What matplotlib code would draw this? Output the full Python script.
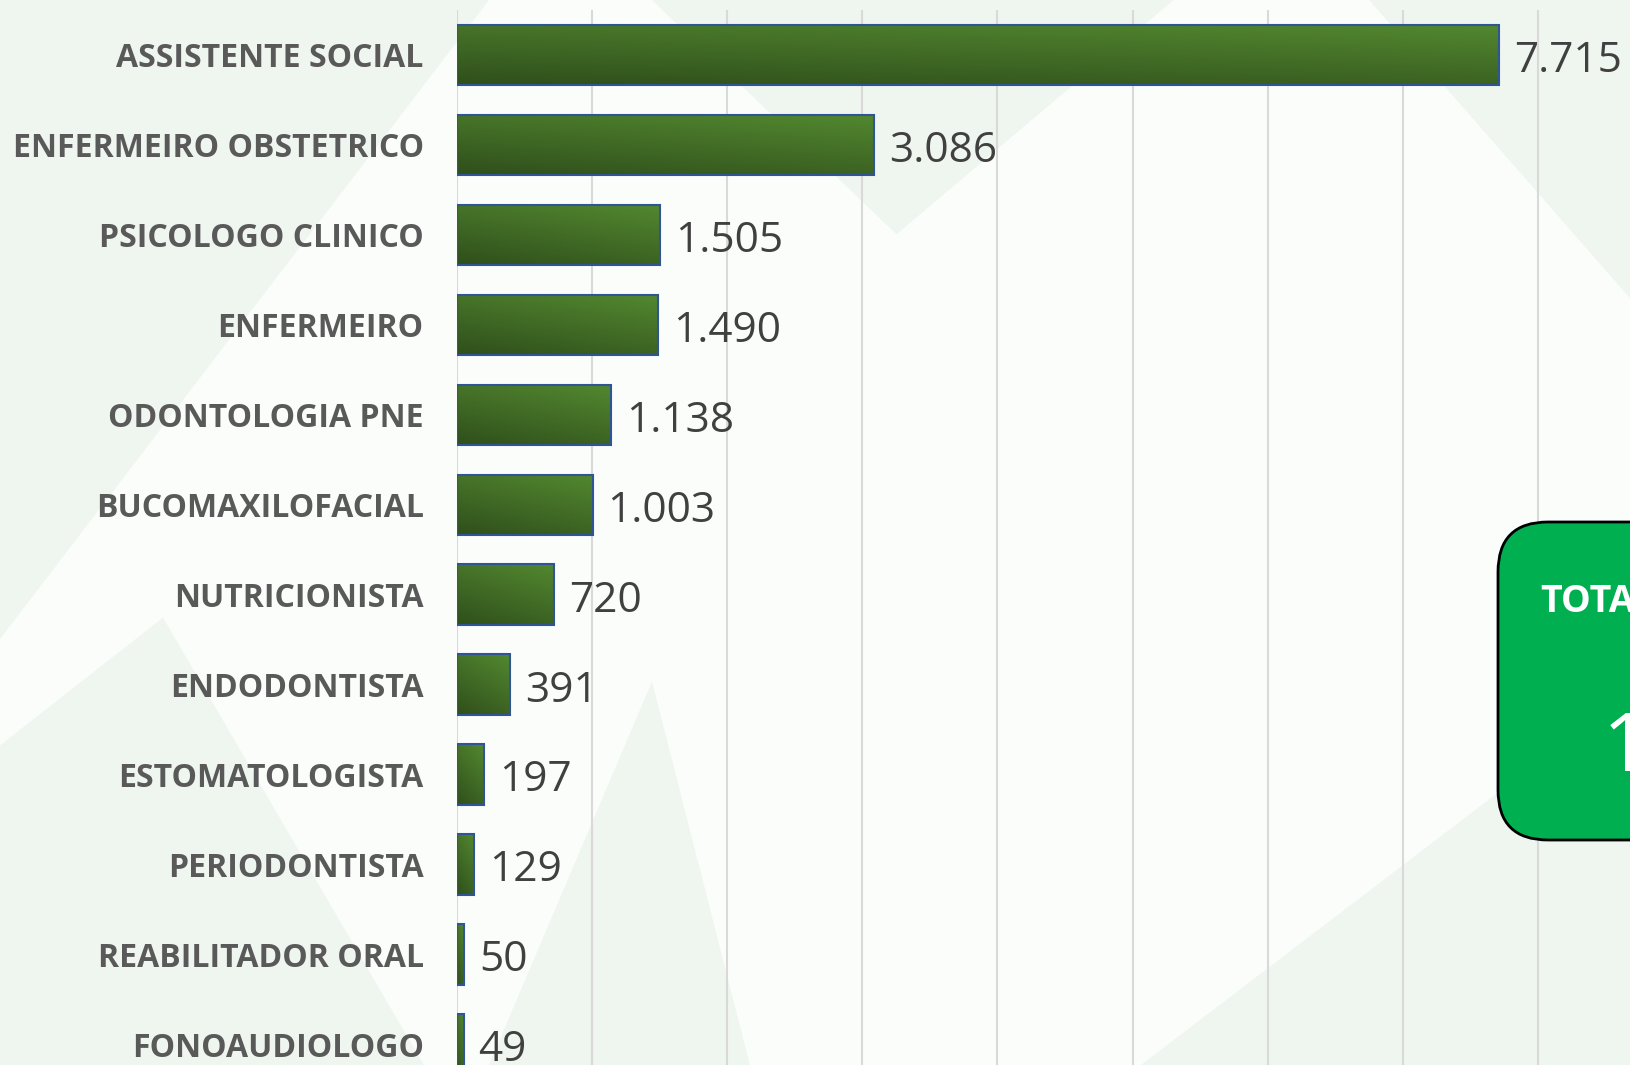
import numpy as np
import matplotlib
matplotlib.use("Agg")
import matplotlib.pyplot as plt
from matplotlib.patches import FancyBboxPatch, Polygon

# data
categories = ["ASSISTENTE SOCIAL", "ENFERMEIRO OBSTETRICO", "PSICOLOGO CLINICO",
              "ENFERMEIRO", "ODONTOLOGIA PNE", "BUCOMAXILOFACIAL", "NUTRICIONISTA",
              "ENDODONTISTA", "ESTOMATOLOGISTA", "PERIODONTISTA", "REABILITADOR ORAL",
              "FONOAUDIOLOGO"]
values = [7715, 3086, 1505, 1490, 1138, 1003, 720, 391, 197, 129, 50, 49]
value_labels = ["7.715", "3.086", "1.505", "1.490", "1.138", "1.003", "720",
                "391", "197", "129", "50", "49"]
grid_ticks = [0, 1000, 2000, 3000, 4000, 5000, 6000, 7000, 8000]

total = sum(values)
total_label = f"{total:,}".replace(",", ".")

fig = plt.figure(figsize=(16.3, 10.65), dpi=100, facecolor="#FBFDFB")

# faint watermark shapes in the background (kept behind the axes)
bg_shapes = [
    [(0.0, 1.0), (0.0, 0.40), (0.16, 0.72), (0.30, 1.0)],
    [(0.0, 0.30), (0.0, 0.0), (0.26, 0.0), (0.10, 0.42)],
    [(0.40, 1.0), (0.55, 0.78), (0.72, 1.0)],
    [(0.70, 0.0), (1.0, 0.0), (1.0, 0.35)],
    [(0.84, 1.0), (1.0, 0.72), (1.0, 1.0)],
    [(0.30, 0.0), (0.40, 0.36), (0.46, 0.0)],
]
for pts in bg_shapes:
    fig.patches.append(Polygon(pts, closed=True, transform=fig.transFigure,
                               facecolor="#EFF5EF", edgecolor="none", zorder=-10))

ax = fig.add_axes([457 / 1630, 0.0, 1 - 457 / 1630, 1 - 10 / 1065])
ax.set_facecolor("none")

y = np.arange(len(categories))
bars = ax.barh(y, values, height=0.67, color="#3F6E26", edgecolor="#2F5597",
               linewidth=1.5, zorder=3)

# gradient fill (dark bottom-left -> lighter top-right)
c0 = np.array([48, 80, 28]) / 255
c1 = np.array([82, 135, 47]) / 255
gx, gy = np.meshgrid(np.linspace(0, 1, 64), np.linspace(0, 1, 16))
t = np.clip(0.35 * gx + 0.65 * (1 - gy), 0, 1)
grad = c0 + (c1 - c0) * t[..., None]
for b in bars:
    x0, yb, w, h = b.get_x(), b.get_y(), b.get_width(), b.get_height()
    im = ax.imshow(grad, extent=[x0, x0 + w, yb + h, yb], aspect="auto",
                   origin="upper", zorder=2.9, interpolation="bilinear")
    im.set_clip_path(b)
    b.set_facecolor("none")

ax.set_xlim(0, (1630 - 457) / 135.1 * 1000)
ax.set_ylim(11.23, -0.5)

ax.set_xticks(grid_ticks)
ax.set_xticklabels([])
ax.xaxis.grid(True, color="#D9D9D9", linewidth=1.5, zorder=1)
ax.tick_params(axis="x", length=0)
for s in ax.spines.values():
    s.set_visible(False)

ax.set_yticks(y)
ax.set_yticklabels(categories, fontsize=23, fontweight="bold", color="#595959",
                   fontfamily="Open Sans")
ax.tick_params(axis="y", length=0, pad=24)

for b, lab in zip(bars, value_labels):
    ax.annotate(lab, (b.get_width(), b.get_y() + b.get_height() / 2),
                xytext=(15, -6), textcoords="offset pixels", va="center", ha="left",
                fontsize=30.5, color="#404040", fontfamily="Open Sans", zorder=4)

# TOTAL box on the right (cut by the figure edge, as in the reference)
box = FancyBboxPatch((14.98, 2.25), 3.0, 3.18, boxstyle="round,pad=0,rounding_size=0.5",
                     transform=fig.dpi_scale_trans, facecolor="#00B050",
                     edgecolor="black", linewidth=2, zorder=5)
fig.patches.append(box)
fig.text(15.40, 4.63, "TOTAL", transform=fig.dpi_scale_trans, color="white",
         fontsize=27, fontweight="bold", fontfamily="Open Sans", va="center",
         ha="left", zorder=6)
fig.text(16.03, 3.15, total_label, transform=fig.dpi_scale_trans, color="white",
         fontsize=58, fontfamily="Open Sans", va="center", ha="left", zorder=6)

fig.savefig("out.png", dpi=100, facecolor=fig.get_facecolor())
